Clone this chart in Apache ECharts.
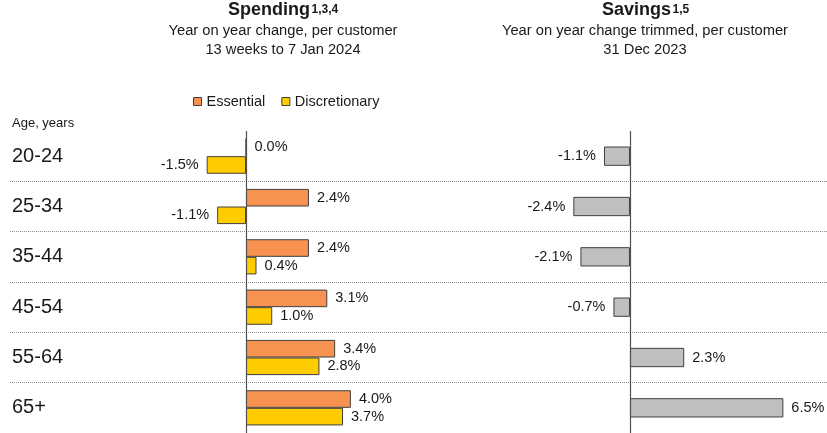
<!DOCTYPE html>
<html>
<head>
<meta charset="utf-8">
<script src="https://cdn.jsdelivr.net/npm/echarts@6/dist/echarts.min.js"></script>
<style>
html,body{margin:0;padding:0;background:#fff;}
#chart{width:827px;height:433px;}
</style>
</head>
<body>
<div id="chart"></div>
<script>
const categories = ['20-24', '25-34', '35-44', '45-54', '55-64', '65+'];
const essential = [0.0, 2.4, 2.4, 3.1, 3.4, 4.0];
const discretionary = [-1.5, -1.1, 0.4, 1.0, 2.8, 3.7];
const savings = [-1.1, -2.4, -2.1, -0.7, 2.3, 6.5];
const seriesNames = ['Essential', 'Discretionary', 'Savings'];

const FONT = '"Liberation Sans", Arial, sans-serif';
const TXT = '#1a1a1a';
const BORDER = '#404040';

function items(arr) {
  return arr.map(v => ({ value: v, label: { position: v < 0 ? 'left' : 'right' } }));
}
const valueLabel = {
  show: true, distance: 8, fontSize: 14.5, fontFamily: FONT, color: TXT,
  formatter: p => p.value.toFixed(1) + '%'
};
const zeroLine = {
  silent: true, symbol: ['none', 'none'], animation: false,
  label: { show: false },
  lineStyle: { color: '#505050', width: 1.2, type: 'solid' },
  emphasis: { disabled: true },
  data: [{ xAxis: 0 }]
};
function txt(text, x, y, size, bold, align) {
  return {
    type: 'text', x: x, y: y, silent: true,
    style: {
      text: text, fontSize: size, fontWeight: bold ? 'bold' : 'normal', fontFamily: FONT, fill: TXT,
      align: align, textAlign: align, verticalAlign: 'middle', textVerticalAlign: 'middle'
    }
  };
}
const splitY = {
  show: true, interval: (i) => i > 0,
  lineStyle: { type: 'dotted', color: '#8a8a8a', width: 1 }
};

const chart = echarts.init(document.getElementById('chart'), null, { renderer: 'canvas' });
chart.setOption({
  animation: false,
  textStyle: { fontFamily: FONT },
  graphic: [
    txt('Spending', 310, 10, 18, true, 'right'),
    txt('1,3,4', 311.5, 9.5, 12, true, 'left'),
    txt('Year on year change, per customer', 283, 31, 14.7, false, 'center'),
    txt('13 weeks to 7 Jan 2024', 283, 49.7, 14.7, false, 'center'),
    txt('Savings', 671, 10, 18, true, 'right'),
    txt('1,5', 672.5, 9.5, 12, true, 'left'),
    txt('Year on year change trimmed, per customer', 645, 31, 14.7, false, 'center'),
    txt('31 Dec 2023', 645, 49.7, 14.7, false, 'center'),
    txt('Age, years', 12, 123.5, 13, false, 'left')
  ],
  legend: {
    data: [seriesNames[0], seriesNames[1]],
    left: 193, top: 94, padding: 0,
    itemWidth: 8, itemHeight: 8, itemGap: 16, icon: 'rect',
    itemStyle: { borderColor: BORDER, borderWidth: 1 },
    textStyle: { fontSize: 14.5, fontFamily: FONT, color: TXT },
    selectedMode: false
  },
  grid: [
    { left: 10, top: 131, width: 472, height: 303, containLabel: false },
    { left: 482, top: 131, width: 345, height: 303, containLabel: false }
  ],
  xAxis: [
    { type: 'value', gridIndex: 0, min: -9, max: 9, show: false },
    { type: 'value', gridIndex: 1, min: -6.27, max: 8.35, show: false }
  ],
  yAxis: [
    {
      type: 'category', gridIndex: 0, data: categories, inverse: true,
      axisLine: { show: false, onZero: false }, axisTick: { show: false },
      axisLabel: { show: true, align: 'left', margin: -2, fontSize: 20, fontFamily: FONT, color: TXT },
      splitLine: splitY
    },
    {
      type: 'category', gridIndex: 1, data: categories, inverse: true,
      axisLine: { show: false, onZero: false }, axisTick: { show: false },
      axisLabel: { show: false },
      splitLine: splitY
    }
  ],
  series: [
    {
      name: seriesNames[0], type: 'bar', xAxisIndex: 0, yAxisIndex: 0,
      data: items(essential), barWidth: 17.6, barGap: '0%',
      itemStyle: { color: '#F79250', borderColor: BORDER, borderWidth: 1 },
      label: valueLabel, markLine: zeroLine
    },
    {
      name: seriesNames[1], type: 'bar', xAxisIndex: 0, yAxisIndex: 0,
      data: items(discretionary), barWidth: 17.6, barGap: '0%',
      itemStyle: { color: '#FFCC00', borderColor: BORDER, borderWidth: 1 },
      label: valueLabel
    },
    {
      name: seriesNames[2], type: 'bar', xAxisIndex: 1, yAxisIndex: 1,
      data: items(savings), barWidth: 19.3,
      itemStyle: { color: '#BFBFBF', borderColor: BORDER, borderWidth: 1 },
      label: valueLabel, markLine: zeroLine
    }
  ]
});
</script>
</body>
</html>
